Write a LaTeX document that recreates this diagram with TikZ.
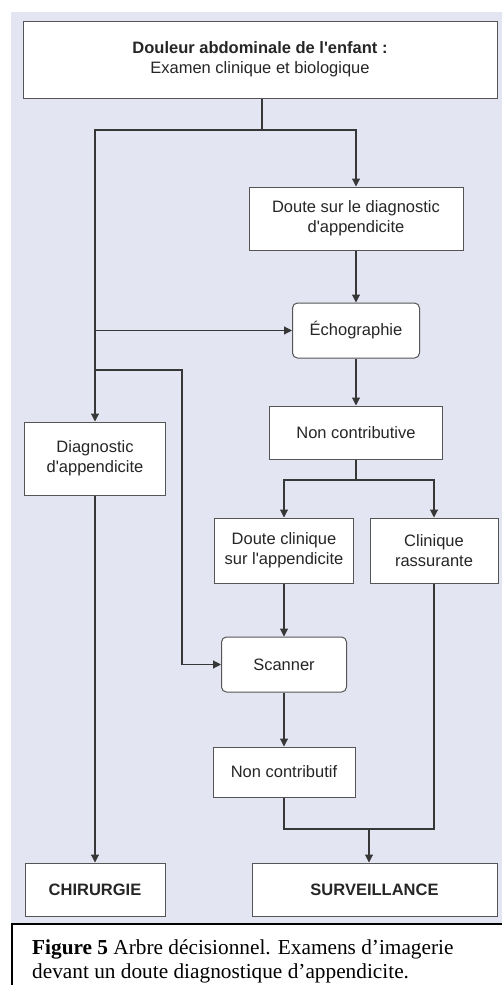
\documentclass[tikz,border=0pt]{standalone}
\usepackage{fontspec}
\setmainfont{Liberation Sans}
\newfontfamily\capfont{Liberation Serif}
\usetikzlibrary{arrows.meta}
\definecolor{bgc}{RGB}{227,229,242}
\definecolor{linec}{RGB}{55,55,55}
\definecolor{boxc}{RGB}{85,85,85}
\begin{document}
\begin{tikzpicture}[x=1pt,y=-1pt,
  box/.style={draw=boxc, line width=1pt, fill=white, inner sep=0pt, align=center,
    font=\fontsize{16.5}{20}\selectfont, text=black!85},
  rbox/.style={box, rounded corners=5pt},
  arr/.style={draw=linec, line width=1.1pt, -{Triangle[width=8pt,length=8pt]}},
  ln/.style={draw=linec, line width=1.1pt},
  captext/.style={anchor=base west, inner sep=0pt, font=\capfont\fontsize{21.3}{25}\selectfont}]
\useasboundingbox (0,0) rectangle (502,985);
\fill[bgc] (11,12) rectangle (502,923);

\node[box, minimum width=474pt, minimum height=77pt] (top) at (260,59.5)
  {\textbf{Douleur abdominale de l\textquotesingle enfant :}\\Examen clinique et biologique};
\node[box, minimum width=214pt, minimum height=63pt] (doute) at (356,218.5)
  {Doute sur le diagnostic\\d\textquotesingle appendicite};
\node[rbox, minimum width=127pt, minimum height=55pt] (echo) at (356,330.5) {Échographie};
\node[box, minimum width=173pt, minimum height=53pt] (nonc) at (356,432.5) {Non contributive};
\node[box, minimum width=141pt, minimum height=73pt] (diag) at (95,458.5)
  {Diagnostic\\d\textquotesingle appendicite};
\node[box, minimum width=139pt, minimum height=65pt] (doutec) at (284,550.5)
  {Doute clinique\\sur l\textquotesingle appendicite};
\node[box, minimum width=128pt, minimum height=65pt] (clir) at (434,550.5)
  {Clinique\\rassurante};
\node[rbox, minimum width=125pt, minimum height=55pt] (scan) at (284,664.5) {Scanner};
\node[box, minimum width=142pt, minimum height=50pt] (noncf) at (284,772) {Non contributif};
\node[box, minimum width=140pt, minimum height=53pt] (chir) at (95,889.5) {\textbf{CHIRURGIE}};
\node[box, minimum width=245pt, minimum height=53pt] (surv) at (374.5,889.5) {\textbf{SURVEILLANCE}};

\coordinate (j1) at (262,130);
\coordinate (j2) at (95,330.5);
\coordinate (j3) at (95,370);
\coordinate (k3) at (182,370);
\coordinate (j4) at (356,480);
\coordinate (j5) at (369,829);

\draw[ln] (top.south -| j1) -- (j1);
\draw[arr] (j1) -| (doute.north);
\draw[arr] (j1) -| (diag.north);
\draw[arr] (j2) -- (echo.west);
\draw[arr] (j3) -- (k3) |- (scan.west);
\draw[arr] (doute.south) -- (echo.north);
\draw[arr] (echo.south) -- (nonc.north);
\draw[ln] (nonc.south) -- (j4);
\draw[arr] (j4) -| (doutec.north);
\draw[arr] (j4) -| (clir.north);
\draw[arr] (doutec.south) -- (scan.north);
\draw[arr] (scan.south) -- (noncf.north);
\draw[ln] (noncf.south) |- (j5) -| (clir.south);
\draw[arr] (j5) -- (j5 |- surv.north);
\draw[arr] (diag.south) -- (chir.north);

\fill[white] (11,923) rectangle (502,985);
\draw[black, line width=2pt] (12,986) -- (12,924) -- (503,924);
\node[captext] (cap1) at (32,954) {\textbf{Figure 5} Arbre décisionnel. Examens d’imagerie};
\node[captext] (cap2) at (32,978) {devant un doute diagnostique d’appendicite.};
\end{tikzpicture}
\end{document}
